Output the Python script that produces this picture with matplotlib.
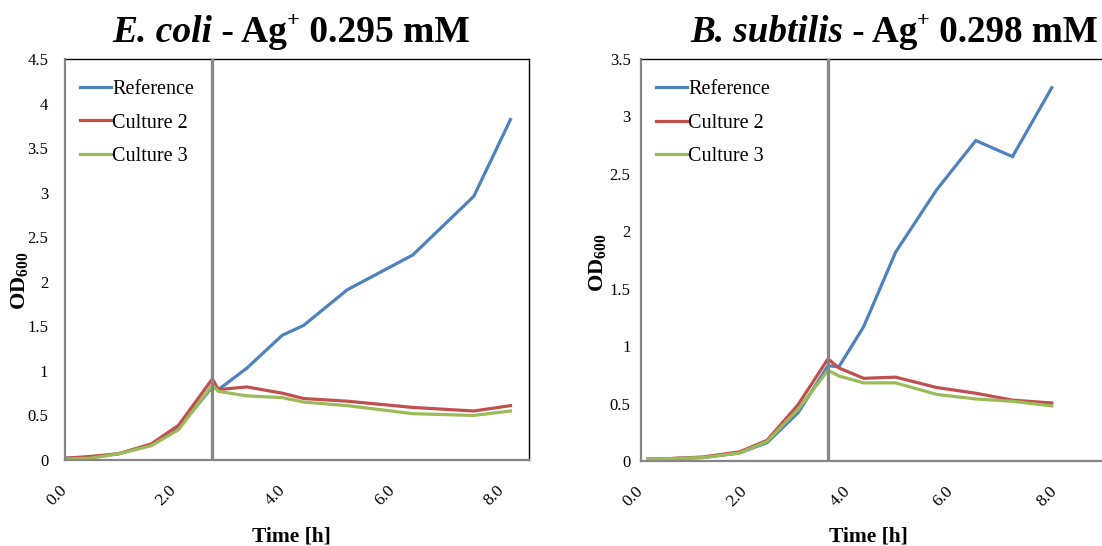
import matplotlib
matplotlib.use("Agg")
import matplotlib.pyplot as plt

plt.rcParams["font.family"] = ["Liberation Serif", "DejaVu Serif"]
plt.rcParams["mathtext.fontset"] = "custom"
plt.rcParams["mathtext.rm"] = "Liberation Serif"
plt.rcParams["mathtext.it"] = "Liberation Serif:italic"
plt.rcParams["mathtext.bf"] = "Liberation Serif:bold"

# ---- E. coli growth curves (OD600 vs time in hours) ----
ecoli_time = [0.0, 0.47, 0.98, 1.58, 2.08, 2.70, 2.81, 3.33, 3.98, 4.37, 5.17, 6.37, 7.49, 8.16]
ecoli_reference = [0.02, 0.03, 0.07, 0.17, 0.36, 0.82, 0.79, 1.03, 1.40, 1.51, 1.91, 2.30, 2.96, 3.82]
ecoli_culture2 = [0.02, 0.04, 0.07, 0.18, 0.39, 0.91, 0.79, 0.82, 0.75, 0.69, 0.66, 0.59, 0.55, 0.61]
ecoli_culture3 = [0.01, 0.02, 0.07, 0.16, 0.34, 0.84, 0.77, 0.72, 0.70, 0.65, 0.61, 0.52, 0.50, 0.55]
ecoli_silver_time = 2.70

# ---- B. subtilis growth curves ----
bsub_time = [0.14, 0.52, 1.20, 1.91, 2.44, 3.04, 3.62, 3.83, 4.31, 4.93, 5.72, 6.48, 7.19, 7.95]
bsub_reference = [0.02, 0.02, 0.03, 0.07, 0.16, 0.42, 0.83, 0.82, 1.17, 1.82, 2.36, 2.79, 2.65, 3.25]
bsub_culture2 = [0.02, 0.02, 0.035, 0.08, 0.18, 0.49, 0.89, 0.81, 0.72, 0.73, 0.64, 0.59, 0.53, 0.505]
bsub_culture3 = [0.02, 0.02, 0.03, 0.07, 0.17, 0.45, 0.79, 0.74, 0.68, 0.68, 0.58, 0.54, 0.52, 0.48]
bsub_silver_time = 3.62

series_names = ["Reference", "Culture 2", "Culture 3"]
series_colors = ["#4F81BD", "#C0504D", "#9BBB59"]
x_ticks = [0.0, 2.0, 4.0, 6.0, 8.0]

W, H = 1102, 546
fig = plt.figure(figsize=(W / 100, H / 100), dpi=100)


def px_axes(x0, y0, x1, y1):
    return fig.add_axes([x0 / W, 1 - y1 / H, (x1 - x0) / W, (y1 - y0) / H])


def draw_panel(ax, t, curves, silver_t, xmax, ymax, ytick_pad):
    for y, name, col in zip(curves, series_names, series_colors):
        ax.plot(t, y, color=col, lw=2.3, label=name, solid_joinstyle="miter")
    ax.axvline(silver_t, color="#868686", lw=2.3, zorder=5)
    ax.set_xlim(0, xmax)
    ax.set_ylim(0, ymax)
    ax.set_xticks(x_ticks)
    ax.set_xticklabels([f"{v:.1f}" for v in x_ticks], rotation=45, ha="right",
                       va="center", rotation_mode="anchor", fontsize=12.5)
    yt = [i * 0.5 for i in range(int(ymax / 0.5) + 1)]
    ax.set_yticks(yt)
    ax.set_yticklabels([f"{v:g}" for v in yt], fontsize=12)
    ax.tick_params(axis="x", length=0, pad=20)
    ax.tick_params(axis="y", length=0, pad=ytick_pad)
    for side in ("top", "right"):
        ax.spines[side].set_color("black")
        ax.spines[side].set_linewidth(1.0)
    for side in ("left", "bottom"):
        ax.spines[side].set_color("#868686")
        ax.spines[side].set_linewidth(1.6)
    ax.spines["left"].set_zorder(6)
    leg = ax.legend(loc="upper left", bbox_to_anchor=(0.032, 0.948), frameon=False,
                    fontsize=14.5, handlelength=1.55, handletextpad=0.05,
                    labelspacing=0.72, borderpad=0, borderaxespad=0)
    for h in leg.get_lines():
        h.set_linewidth(2.3)


def draw_title(ax, x_left, baseline, species, conc, size=27):
    """Species name in bold italic, followed by the silver ion concentration."""
    t1 = fig.text(x_left / W, 1 - baseline / H, species, fontsize=size,
                  fontweight="bold", fontstyle="italic", ha="left", va="baseline")
    t2 = ax.annotate(" - Ag", xy=(1, 0), xycoords=t1, fontsize=size,
                     fontweight="bold", ha="left", va="bottom", annotation_clip=False)
    t3 = ax.annotate("+", xy=(1, 0.54), xycoords=t2, fontsize=size * 0.6,
                     fontweight="bold", ha="left", va="bottom", annotation_clip=False)
    ax.annotate(f" {conc} mM", xy=(1, 0), xycoords=(t3, t2), fontsize=size,
                fontweight="bold", ha="left", va="bottom", annotation_clip=False)


ax1 = px_axes(65, 59, 529, 460)
draw_panel(ax1, ecoli_time, [ecoli_reference, ecoli_culture2, ecoli_culture3],
           ecoli_silver_time, 8.5, 4.5, 12)

ax2 = px_axes(641, 59, 1106, 461)
draw_panel(ax2, bsub_time, [bsub_reference, bsub_culture2, bsub_culture3],
           bsub_silver_time, 9.0, 3.5, 7.5)

draw_title(ax1, 112, 42, "E. coli", "0.295")
draw_title(ax1, 690, 42, "B. subtilis", "0.298", size=26.7)

# axis titles
for xc in (291, 868):
    fig.text(xc / W, 1 - 542 / H, "Time [h]", ha="center", va="baseline",
             fontsize=15.5, fontweight="bold")
fig.text(20 / W, 1 - 281 / H, r"$\mathbf{OD_{600}}$", rotation=90, ha="center",
         va="center", fontsize=16)
fig.text(598 / W, 1 - 263 / H, r"$\mathbf{OD_{600}}$", rotation=90, ha="center",
         va="center", fontsize=16)

fig.savefig("out.png", dpi=100)
